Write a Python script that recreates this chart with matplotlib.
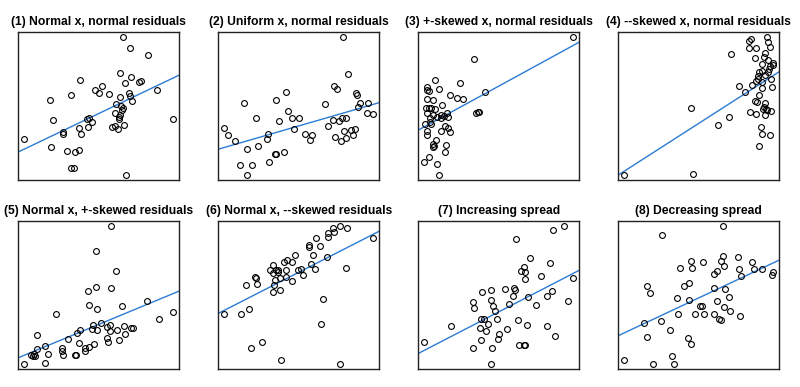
import numpy
import matplotlib
matplotlib.use("Agg")
import matplotlib.pyplot as plt

plt.rcParams["font.family"] = ["Liberation Sans", "DejaVu Sans"]

titles = [
    "(1) Normal x, normal residuals",
    "(2) Uniform x, normal residuals",
    "(3) +-skewed x, normal residuals",
    "(4) --skewed x, normal residuals",
    "(5) Normal x, +-skewed residuals",
    "(6) Normal x, --skewed residuals",
    "(7) Increasing spread",
    "(8) Decreasing spread",
]

x1 = [32.5, 34.6, 39.9, 31.5, 35.0, 19.6, 37.8, 37.2, 33.1, 26.3, 24.1, 25.2, 42.5, 17.1, 28.4, 34.3, 34.5,
      31.7, 10.6, 35.2, 30.5, 31.8, 32.5, 32.2, 30.1, 31.6, 31.4, 31.2, 21.7, 22.4, 23.2, 11.5, 47.5, 32.9,
      29.3, 30.2, 31.0, 19.2, 22.1, 14.7, 14.7, 19.8, 3.0, 11.1, 15.7, 18.0, 19.2, 17.1, 17.9, 33.5]
y1 = [43.0, 39.9, 37.6, 32.3, 31.2, 30.3, 30.0, 29.6, 29.2, 28.5, 27.1, 26.3, 27.2, 25.6, 26.1, 26.4, 25.5,
      25.0, 24.2, 23.8, 23.1, 22.2, 21.8, 21.0, 20.2, 19.5, 19.0, 18.4, 18.3, 18.6, 17.5, 18.0, 18.3, 16.7,
      15.9, 16.3, 15.4, 15.7, 16.0, 14.4, 13.9, 13.9, 12.5, 10.1, 8.8, 8.6, 9.1, 3.6, 3.6, 1.7]

x2 = [38.4, 39.9, 35.6, 36.6, 21.2, 42.2, 42.4, 18.2, 8.7, 33.0, 45.9, 43.4, 42.8, 21.8, 45.6, 47.4, 12.5,
      23.1, 25.3, 19.2, 39.1, 38.1, 37.1, 35.3, 2.9, 33.9, 23.6, 40.8, 42.0, 38.5, 16.1, 4.1, 27.0, 29.2,
      15.8, 28.5, 36.0, 41.3, 39.2, 37.6, 6.2, 13.1, 9.8, 18.3, 18.0, 20.6, 16.2, 7.5, 11.3, 9.7]
y2 = [43.0, 32.1, 28.3, 27.4, 26.7, 26.4, 25.7, 24.3, 23.2, 23.0, 23.3, 23.4, 22.0, 21.0, 20.4, 20.1, 18.8,
      18.8, 18.8, 18.0, 18.8, 18.7, 17.8, 18.1, 15.8, 16.4, 15.5, 15.2, 15.4, 14.9, 14.1, 13.7, 13.9, 13.8,
      12.6, 12.2, 13.2, 13.8, 12.9, 12.0, 11.8, 10.3, 9.5, 8.1, 8.0, 8.6, 5.5, 4.6, 4.7, 1.8]

x3 = [47.4, 17.8, 6.0, 13.7, 3.6, 3.8, 7.4, 4.4, 21.0, 10.7, 12.7, 14.6, 3.8, 5.6, 8.1, 3.4, 4.2, 4.8, 6.2,
      3.8, 5.5, 7.8, 9.8, 10.1, 8.8, 6.6, 8.0, 4.7, 4.5, 3.0, 5.0, 18.2, 18.9, 19.3, 9.0, 9.9, 8.0, 10.6,
      3.8, 3.8, 6.3, 9.4, 5.4, 5.8, 5.6, 9.1, 4.3, 2.9, 6.7, 7.3]
y3 = [43.0, 36.4, 30.2, 29.3, 28.0, 27.3, 27.5, 26.8, 26.6, 25.7, 24.8, 24.4, 24.6, 24.1, 22.8, 21.7, 21.9,
      21.7, 21.5, 20.3, 19.8, 19.8, 20.2, 19.2, 19.4, 19.2, 18.8, 18.7, 17.7, 17.0, 17.1, 20.4, 20.7, 20.6,
      16.3, 15.7, 14.8, 14.5, 15.0, 13.8, 12.2, 10.7, 11.1, 10.4, 10.0, 8.7, 7.1, 5.5, 5.0, 1.8]

x4 = [45.5, 40.7, 40.2, 45.8, 46.4, 40.2, 42.3, 45.1, 35.0, 42.0, 46.0, 44.8, 47.4, 44.0, 46.5, 46.2, 43.2,
      44.0, 45.8, 45.0, 43.0, 46.8, 42.4, 44.2, 41.2, 44.1, 47.0, 37.2, 39.0, 43.3, 42.0, 42.5, 44.9, 44.6,
      45.2, 46.8, 23.0, 40.6, 42.4, 45.1, 34.4, 31.1, 43.7, 44.1, 46.5, 43.2, 3.0, 23.6, 44.5, 45.5, 43.0, 47.5]
y4 = [43.0, 42.6, 41.9, 41.6, 40.1, 39.7, 39.8, 38.4, 37.9, 36.8, 36.2, 37.0, 35.4, 34.9, 34.3, 33.6, 32.7,
      32.9, 32.5, 31.7, 30.4, 30.4, 29.9, 29.7, 28.8, 27.8, 28.2, 28.4, 26.6, 25.8, 23.8, 23.6, 23.3, 22.0,
      21.5, 21.0, 21.9, 20.5, 20.0, 19.8, 19.1, 16.8, 16.0, 13.9, 13.7, 10.3, 1.8, 1.9, 21.5, 21.2, 31.5, 34.8]

x5 = [28.9, 24.4, 30.4, 24.4, 28.8, 22.0, 22.4, 24.6, 32.1, 12.6, 39.6, 47.4, 43.0, 25.8, 23.4, 28.6, 27.6,
      32.6, 34.8, 35.4, 24.7, 23.1, 19.6, 18.6, 30.6, 28.4, 33.0, 6.7, 16.1, 27.5, 31.1, 28.0, 19.4, 23.7,
      9.2, 6.8, 14.3, 14.3, 22.2, 21.2, 21.0, 10.0, 14.6, 18.1, 18.4, 6.0, 5.5, 5.1, 6.2, 3.0, 9.2]
y5 = [44.2, 36.7, 30.8, 25.8, 25.6, 24.8, 20.4, 19.2, 20.3, 17.9, 21.8, 18.4, 16.2, 14.9, 14.3, 14.4, 13.8,
      14.2, 13.6, 13.6, 12.9, 13.3, 12.9, 12.0, 12.9, 12.7, 11.8, 11.3, 10.1, 10.4, 10.0, 9.2, 8.9, 8.8,
      8.2, 7.1, 7.6, 6.7, 7.9, 7.4, 6.6, 5.8, 5.5, 5.4, 5.3, 5.7, 5.1, 5.3, 5.0, 2.8, 2.9]

x6 = [37.5, 35.3, 39.5, 33.9, 35.8, 33.9, 30.3, 47.4, 28.3, 28.1, 31.4, 24.0, 29.3, 33.6, 21.7, 20.6, 23.0,
      17.4, 28.8, 16.5, 18.2, 18.8, 21.2, 17.4, 19.0, 24.8, 25.7, 29.9, 39.1, 26.3, 21.4, 19.6, 12.2, 12.3,
      18.0, 23.1, 12.8, 9.5, 17.7, 19.6, 17.4, 32.5, 10.4, 2.9, 7.8, 31.9, 14.1, 10.9, 19.9, 37.3]
y6 = [44.2, 43.8, 43.8, 42.2, 42.4, 41.0, 40.8, 40.7, 38.7, 38.0, 38.4, 35.6, 35.6, 35.0, 34.2, 33.6, 33.5,
      32.5, 32.9, 31.2, 31.2, 31.1, 31.2, 30.2, 30.4, 31.0, 31.4, 31.3, 31.8, 29.6, 29.0, 28.6, 28.8, 28.6,
      27.9, 27.7, 26.8, 26.4, 26.5, 25.1, 24.3, 22.3, 19.4, 17.7, 17.7, 14.6, 9.4, 7.6, 3.8, 2.8]

x7 = [44.7, 41.4, 30.3, 34.5, 40.5, 32.6, 31.8, 33.0, 37.6, 32.9, 47.4, 29.6, 27.0, 30.0, 22.7, 20.1, 29.3,
      40.9, 39.5, 33.8, 22.8, 17.5, 23.4, 17.6, 28.2, 36.2, 24.0, 45.7, 19.8, 20.7, 21.9, 24.7, 30.9, 11.0,
      19.6, 27.5, 33.7, 39.6, 21.4, 25.1, 24.9, 19.9, 41.8, 2.9, 31.2, 32.6, 32.9, 17.5, 23.0, 22.7]
y7 = [44.1, 43.1, 40.3, 34.7, 33.2, 32.0, 30.7, 30.4, 29.0, 28.2, 28.6, 25.6, 25.1, 25.0, 24.8, 24.2, 23.2,
      24.6, 23.1, 22.9, 21.9, 21.3, 20.2, 19.4, 20.7, 20.4, 18.7, 21.7, 16.1, 16.3, 14.7, 16.0, 15.8, 13.9,
      13.4, 13.2, 14.2, 13.9, 12.5, 11.5, 10.1, 9.7, 11.0, 9.2, 8.4, 8.3, 8.3, 7.3, 7.4, 2.7]

x8 = [32.3, 14.3, 32.3, 36.8, 31.7, 22.9, 26.4, 41.0, 32.7, 19.5, 23.1, 37.2, 41.7, 44.1, 47.5, 30.6, 29.6,
      37.7, 47.0, 9.6, 22.2, 20.9, 29.6, 32.9, 10.7, 34.1, 18.8, 22.3, 30.6, 25.7, 26.3, 32.7, 34.6, 19.1,
      24.2, 26.9, 29.8, 37.5, 31.2, 31.7, 8.7, 13.8, 16.7, 9.6, 22.1, 22.8, 17.2, 2.9, 11.4, 17.9]
y8 = [44.2, 41.6, 35.2, 35.0, 33.7, 33.9, 33.4, 33.4, 32.4, 31.7, 31.6, 31.5, 31.4, 31.4, 30.5, 30.6, 29.8,
      29.2, 29.4, 26.3, 27.1, 26.3, 25.6, 25.4, 24.0, 23.0, 22.6, 21.9, 21.7, 20.3, 20.3, 19.8, 18.8, 17.7,
      17.8, 17.7, 17.9, 17.3, 16.3, 15.9, 15.0, 15.5, 12.8, 10.7, 10.4, 8.8, 5.2, 3.9, 2.8, 2.8]

xs = [x1, x2, x3, x4, x5, x6, x7, x8]
ys = [y1, y2, y3, y4, y5, y6, y7, y8]

fig = plt.figure(figsize=(8, 3.87), dpi=100)

lefts = [18.3, 218.3, 418.3, 618.3]
tops = [32, 221]
w, h = 161, 148

for i in range(8):
    row, col = divmod(i, 4)
    ax = fig.add_axes([lefts[col] / 800, 1 - (tops[row] + h) / 387, w / 800, h / 387])
    x = numpy.array(xs[i])
    y = numpy.array(ys[i])

    # R style: range padded by 4% each side
    dx = (x.max() - x.min()) * 0.04
    dy = (y.max() - y.min()) * 0.04
    ax.set_xlim(x.min() - dx, x.max() + dx)
    ax.set_ylim(y.min() - dy, y.max() + dy)

    b, a = numpy.polyfit(x, y, 1)
    ax.axline((0, a), slope=b, color="#2b7bd4", lw=1.0, zorder=1)
    ax.plot(x, y, "o", mfc="none", mec="black", ms=4.2, mew=0.8, zorder=2)

    ax.set_xticks([])
    ax.set_yticks([])
    for s in ax.spines.values():
        s.set_linewidth(1.0)
        s.set_color("#222222")
    ax.set_title(titles[i], fontsize=8.7, fontweight="bold", pad=5)

fig.savefig("out.png", dpi=100)
